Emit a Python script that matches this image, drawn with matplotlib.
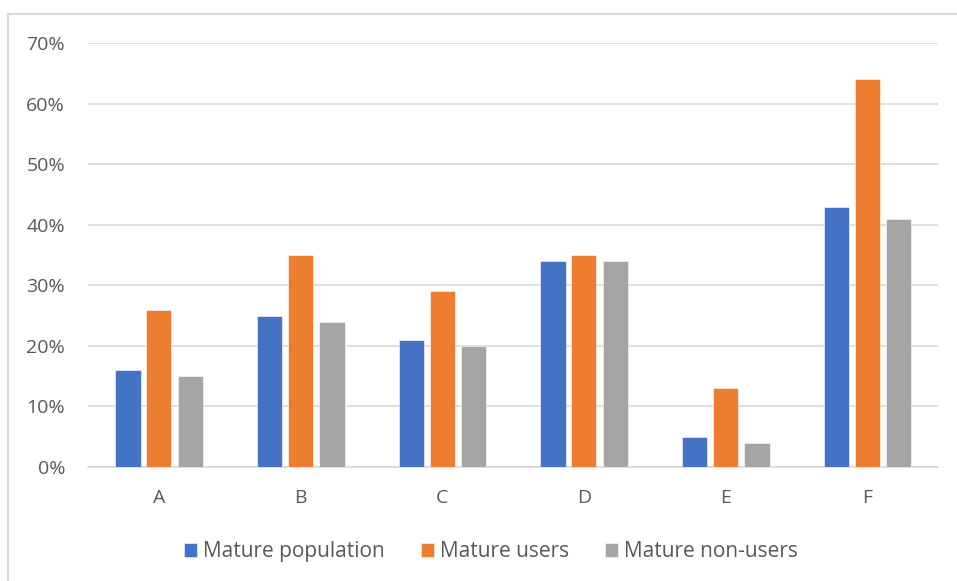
import matplotlib
matplotlib.use("Agg")
import matplotlib.pyplot as plt
from matplotlib.patches import Rectangle
from matplotlib.ticker import FuncFormatter
import numpy as np

categories = ["A", "B", "C", "D", "E", "F"]
mature_population = [16, 25, 21, 34, 5, 43]
mature_users = [26, 35, 29, 35, 13, 64]
mature_non_users = [15, 24, 20, 34, 4, 41]

series = [("Mature population", mature_population, "#4472C4"),
          ("Mature users", mature_users, "#ED7D31"),
          ("Mature non-users", mature_non_users, "#A5A5A5")]

plt.rcParams["font.family"] = ["Open Sans", "DejaVu Sans"]

W, H = 957, 581
fig = plt.figure(figsize=(W / 100, H / 100), dpi=100)
ax = fig.add_axes([88 / W, 1 - 467 / H, (938 - 88) / W, (467 - 43) / H])

# chart frame (runs past the right and bottom edge as in the reference)
fig.patches.append(Rectangle((8 / W, -0.1), 1.2, 1 - 14 / H + 0.1,
                             transform=fig.transFigure, fill=False,
                             edgecolor="#D9D9D9", linewidth=1.5, zorder=0))

x = np.arange(len(categories))
width = 0.178
offsets = [-0.218, 0, 0.222]
for (label, vals, col), off in zip(series, offsets):
    ax.bar(x + off, vals, width, color=col, label=label, zorder=3,
           edgecolor="white", linewidth=0.4)

ax.set_xlim(-0.5, len(categories) - 0.5)
ax.set_ylim(0, 70)
ax.set_yticks(range(0, 71, 10))
ax.yaxis.set_major_formatter(FuncFormatter(lambda v, p: f"{v:.0f}%"))
ax.set_xticks(x)
ax.set_xticklabels(categories)
ax.grid(axis="y", color="#D9D9D9", linewidth=1.2, zorder=0)
for s in ["top", "right", "left"]:
    ax.spines[s].set_visible(False)
ax.spines["bottom"].set_color("#D9D9D9")
ax.spines["bottom"].set_linewidth(1.2)
ax.tick_params(axis="both", length=0, labelsize=14, colors="#595959")
ax.tick_params(axis="y", pad=16.5)
ax.tick_params(axis="x", pad=16)

ax.legend(loc="center", bbox_to_anchor=(0.474, -0.2), ncol=3, frameon=False,
          fontsize=15, handlelength=0.62, handleheight=0.62, handletextpad=0.29,
          columnspacing=1.75, labelcolor="#595959")

fig.savefig("out.png", dpi=100)
